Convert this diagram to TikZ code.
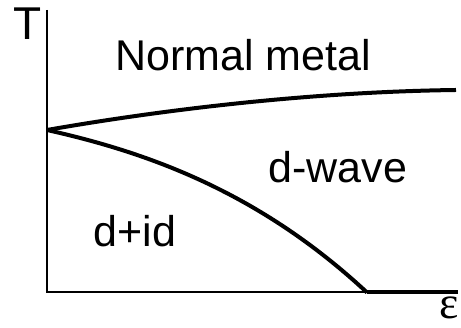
\documentclass[tikz,border=0pt]{standalone}
\usepackage{fontspec}
\setmainfont{Liberation Sans}
\newfontfamily\greekfont{Liberation Serif}
\begin{document}
\begin{tikzpicture}[x=1pt, y=1pt,
    axis/.style={line width=2pt},
    boundary/.style={line width=4pt},
    region/.style={inner sep=0pt, font=\fontsize{43}{43}\selectfont}]
        \useasboundingbox (0,0) rectangle (461,328);

        \coordinate (origin) at (46.5,35.5);
        \coordinate (ytop) at (46.5,318);
        \coordinate (xend) at (458,35.5);
        \coordinate (tc) at (47,198);
        \coordinate (upend) at (456,238);
        \coordinate (lowend) at (367,35.5);

        \draw[axis] (ytop) -- (origin) -- (xend);

        \draw[boundary] (tc) .. controls (150,216) and (300,236) .. (upend);
        \draw[boundary] (tc) .. controls (150,175) and (260,135) .. (lowend);
        \draw[boundary] (lowend) -- (xend);

        \node[inner sep=0pt, font=\fontsize{46}{46}\selectfont] (tlabel) at (28,304) {T};
        \node[inner sep=0pt, font=\greekfont\fontsize{46}{46}\selectfont] (elabel) at (449,20) {ε};
        \node[region] (normal) at (243,273) {Normal metal};
        \node[region] (dwave) at (338,161) {d-wave};
        \node[region] (did) at (135,97) {d+id};
      \end{tikzpicture}
\end{document}
